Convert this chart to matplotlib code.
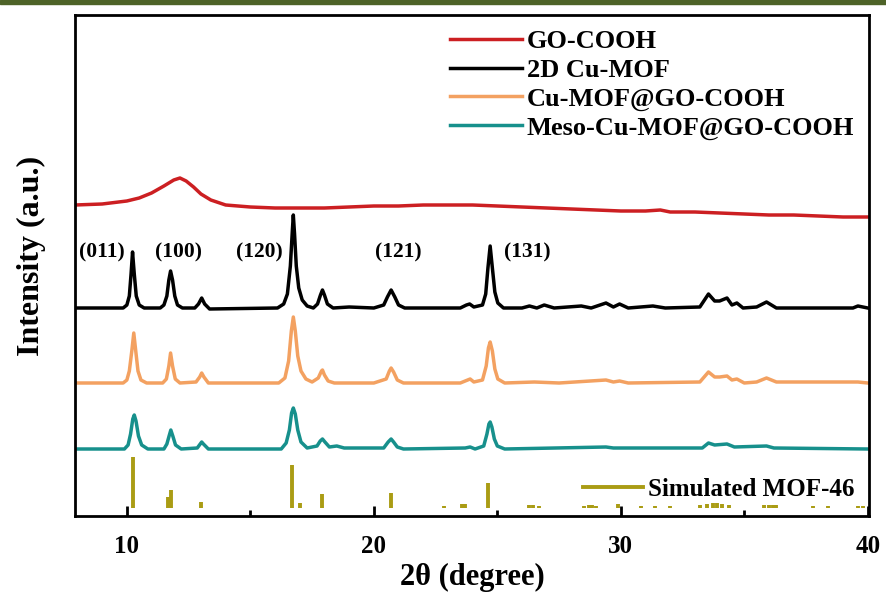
import numpy as np
import matplotlib.pyplot as plt
from matplotlib.lines import Line2D
from matplotlib.patches import Rectangle

plt.rcParams['font.family'] = ['Liberation Serif', 'DejaVu Serif']
plt.rcParams['font.weight'] = 'bold'

# XRD patterns (2theta in degree, intensity in a.u. incl. offset)
go_x = [7.9, 9.0, 10.0, 10.5, 11.0, 11.5, 11.9, 12.15, 12.4, 12.7, 13.0, 13.4, 14.0, 15.0,
        16.0, 17.0, 18.0, 19.0, 20.0, 21.0, 22.0, 23.0, 24.0, 25.0, 26.0, 27.0, 28.0, 29.0,
        30.0, 31.0, 31.6, 32.0, 33.0, 34.0, 35.0, 36.0, 37.0, 38.0, 39.0, 40.0]
go_y = [311, 312, 315, 318, 323, 330, 336, 338, 335, 329, 322, 316, 311, 309,
        308, 308, 308, 309, 310, 310, 311, 311, 311, 310, 309, 308, 307, 306,
        305, 305, 306, 304, 304, 303, 302, 301, 301, 300, 299, 299]

mof_x = [7.9, 9.85, 10.0, 10.1, 10.17, 10.23, 10.3, 10.38, 10.5, 10.7, 11.35, 11.5, 11.62,
         11.7, 11.77, 11.85, 11.94, 12.05, 12.25, 12.75, 12.9, 13.03, 13.15, 13.35, 16.1,
         16.35, 16.5, 16.62, 16.7, 16.74, 16.79, 16.86, 16.96, 17.1, 17.3, 17.55, 17.72,
         17.84, 17.92, 18.0, 18.12, 18.35, 19.0, 20.0, 20.4, 20.55, 20.7, 20.85, 21.0, 21.25,
         22.5, 23.5, 23.75, 23.88, 24.05, 24.4, 24.53, 24.62, 24.71, 24.8, 24.9, 25.02, 25.25,
         26.0, 26.3, 26.6, 26.9, 27.3, 28.4, 28.8, 29.4, 29.7, 29.95, 30.3, 31.3, 31.8, 33.2,
         33.55, 33.8, 34.0, 34.3, 34.5, 34.7, 34.95, 35.5, 35.9, 36.3, 39.4, 39.6, 40.0]
mof_y = [208, 208, 211, 220, 242, 264, 242, 220, 211, 208, 208, 211, 220,
         236, 245, 236, 220, 211, 208, 208, 212, 218, 212, 207, 208,
         212, 222, 250, 285, 301, 282, 250, 228, 216, 210, 208, 212,
         221, 226, 221, 212, 208, 209, 208, 211, 219, 226, 219, 211, 208,
         208, 208, 211, 212, 209, 211, 222, 248, 270, 248, 224, 213, 208,
         208, 210, 208, 211, 208, 210, 208, 213, 209, 212, 208, 210, 208, 209,
         222, 215, 215, 218, 211, 213, 208, 209, 214, 208, 208, 210, 208]

comp_x = [7.9, 9.85, 10.0, 10.1, 10.2, 10.28, 10.36, 10.45, 10.57, 10.8, 11.45, 11.6, 11.7,
          11.77, 11.85, 11.96, 12.15, 12.8, 12.95, 13.03, 13.12, 13.3, 16.15, 16.4, 16.55,
          16.66, 16.74, 16.82, 16.92, 17.05, 17.25, 17.5, 17.75, 17.88, 17.92, 18.0, 18.15,
          18.4, 20.0, 20.5, 20.63, 20.7, 20.8, 20.95, 21.2, 23.5, 23.8, 23.9, 24.05, 24.4,
          24.55, 24.64, 24.71, 24.8, 24.9, 25.02, 25.3, 26.5, 27.5, 29.4, 29.7, 29.95, 30.3,
          33.2, 33.55, 33.8, 34.0, 34.3, 34.5, 34.7, 35.0, 35.5, 35.9, 36.3, 39.6, 40.0]
comp_y = [133, 133, 136, 145, 165, 183, 165, 145, 136, 133, 133, 137, 150,
          163, 150, 137, 133, 134, 139, 143, 139, 133, 133, 138, 155,
          185, 199, 185, 160, 145, 137, 134, 138, 145, 146, 141, 135,
          133, 133, 137, 145, 148, 144, 136, 133, 133, 136, 137, 134, 136,
          150, 168, 174, 165, 147, 137, 133, 134, 133, 136, 134, 135, 133,
          134, 144, 139, 139, 140, 136, 137, 133, 134, 138, 134, 134, 133]

meso_x = [7.9, 9.9, 10.05, 10.15, 10.24, 10.3, 10.37, 10.47, 10.6, 10.85, 11.5, 11.62, 11.71,
          11.78, 11.86, 11.97, 12.2, 12.85, 12.97, 13.03, 13.1, 13.3, 16.25, 16.45, 16.58,
          16.67, 16.74, 16.82, 16.92, 17.05, 17.3, 17.7, 17.83, 17.92, 18.02, 18.2, 18.5, 18.8,
          20.4, 20.58, 20.7, 20.8, 20.95, 21.2, 23.7, 23.9, 24.1, 24.45, 24.58, 24.66, 24.71,
          24.78, 24.88, 25.0, 25.3, 29.4, 29.7, 33.3, 33.55, 33.8, 34.3, 34.6, 35.9, 36.2, 40.0]
meso_y = [67, 67, 71, 82, 97, 101, 95, 80, 71, 67, 67, 72, 80,
          86, 80, 71, 67, 68, 72, 74, 72, 67, 67, 73, 86,
          103, 108, 102, 86, 74, 68, 70, 75, 77, 74, 69, 70, 68,
          68, 74, 77, 74, 69, 67, 68, 69, 67, 70, 82, 92, 94,
          89, 77, 70, 67, 69, 68, 68, 73, 71, 72, 69, 70, 68, 67]

sim_pos = [10.24, 11.66, 11.78, 13.0, 16.69, 17.0, 17.9, 20.7, 22.85, 23.55, 23.7, 24.63,
           26.3, 26.45, 26.7, 28.5, 28.7, 28.85, 29.0, 29.9, 30.8, 31.4, 32.0, 33.2, 33.5,
           33.75, 33.9, 34.1, 34.4, 35.8, 36.0, 36.15, 36.3, 37.8, 38.4, 39.6, 39.8]
sim_int = [51, 11, 18, 6, 43, 5, 14, 15, 2, 4, 4, 25,
           3, 3, 2, 2, 3, 3, 2, 4, 2, 2, 2, 3, 4,
           5, 5, 4, 3, 3, 3, 3, 3, 2, 2, 2, 2]
sim_base = 8

hkl_labels = ['(011)', '(100)', '(120)', '(121)', '(131)']
hkl_x = [9.0, 12.1, 15.35, 21.0, 26.2]
hkl_y = [264, 264, 264, 264, 264]

c_red = '#cc1f22'
c_black = '#000000'
c_orange = '#f3a161'
c_teal = '#17908c'
c_sim = '#aa9c14'

fig = plt.figure(figsize=(8.86, 5.95), dpi=100)
fig.patches.append(Rectangle((0, 1 - 4 / 595), 1, 4 / 595, transform=fig.transFigure,
                             color='#4e6328', zorder=0))
ax = fig.add_axes([75 / 886, 79 / 595, 794 / 886, 501 / 595])

ax.plot(go_x, go_y, color=c_red, lw=2.5, label='GO-COOH')
ax.plot(mof_x, mof_y, color=c_black, lw=2.5, label='2D Cu-MOF')
ax.plot(comp_x, comp_y, color=c_orange, lw=2.5, label='Cu-MOF@GO-COOH')
ax.plot(meso_x, meso_y, color=c_teal, lw=2.5, label='Meso-Cu-MOF@GO-COOH')
ax.vlines(sim_pos, sim_base, np.array(sim_int) + sim_base, color=c_sim, lw=2.8)

for lab, xx, yy in zip(hkl_labels, hkl_x, hkl_y):
    ax.text(xx, yy, lab, ha='center', va='center', fontsize=15.5, fontweight='bold')

leg1 = ax.legend(loc='upper right', bbox_to_anchor=(1.0, 1.0), frameon=False,
                 fontsize=19, handlelength=2.7, handletextpad=0.2, labelspacing=0.2,
                 borderaxespad=0.15)
ax.add_artist(leg1)
ax.legend([Line2D([], [], color=c_sim, lw=2.8)], ['Simulated MOF-46'],
          loc='lower right', bbox_to_anchor=(1.0, 0.0), frameon=False, fontsize=18,
          handlelength=2.4, handletextpad=0.2, borderaxespad=0.2)

ax.set_xlim(7.9, 40.05)
ax.set_ylim(0, 501)
ax.set_xticks([10, 20, 30, 40])
ax.set_xticks([15, 25, 35], minor=True)
ax.set_yticks([])
ax.tick_params(axis='x', which='major', direction='in', length=7, width=2,
               labelsize=18, pad=14)
ax.tick_params(axis='x', which='minor', direction='in', length=4, width=2)
for s in ax.spines.values():
    s.set_linewidth(2)

ax.set_xlabel('2θ (degree)', fontsize=22, fontweight='bold', labelpad=3)
ax.set_ylabel('Intensity (a.u.)', fontsize=23, fontweight='bold')
ax.yaxis.set_label_coords(-0.036, 0.52)

plt.savefig('out.png', dpi=100)
